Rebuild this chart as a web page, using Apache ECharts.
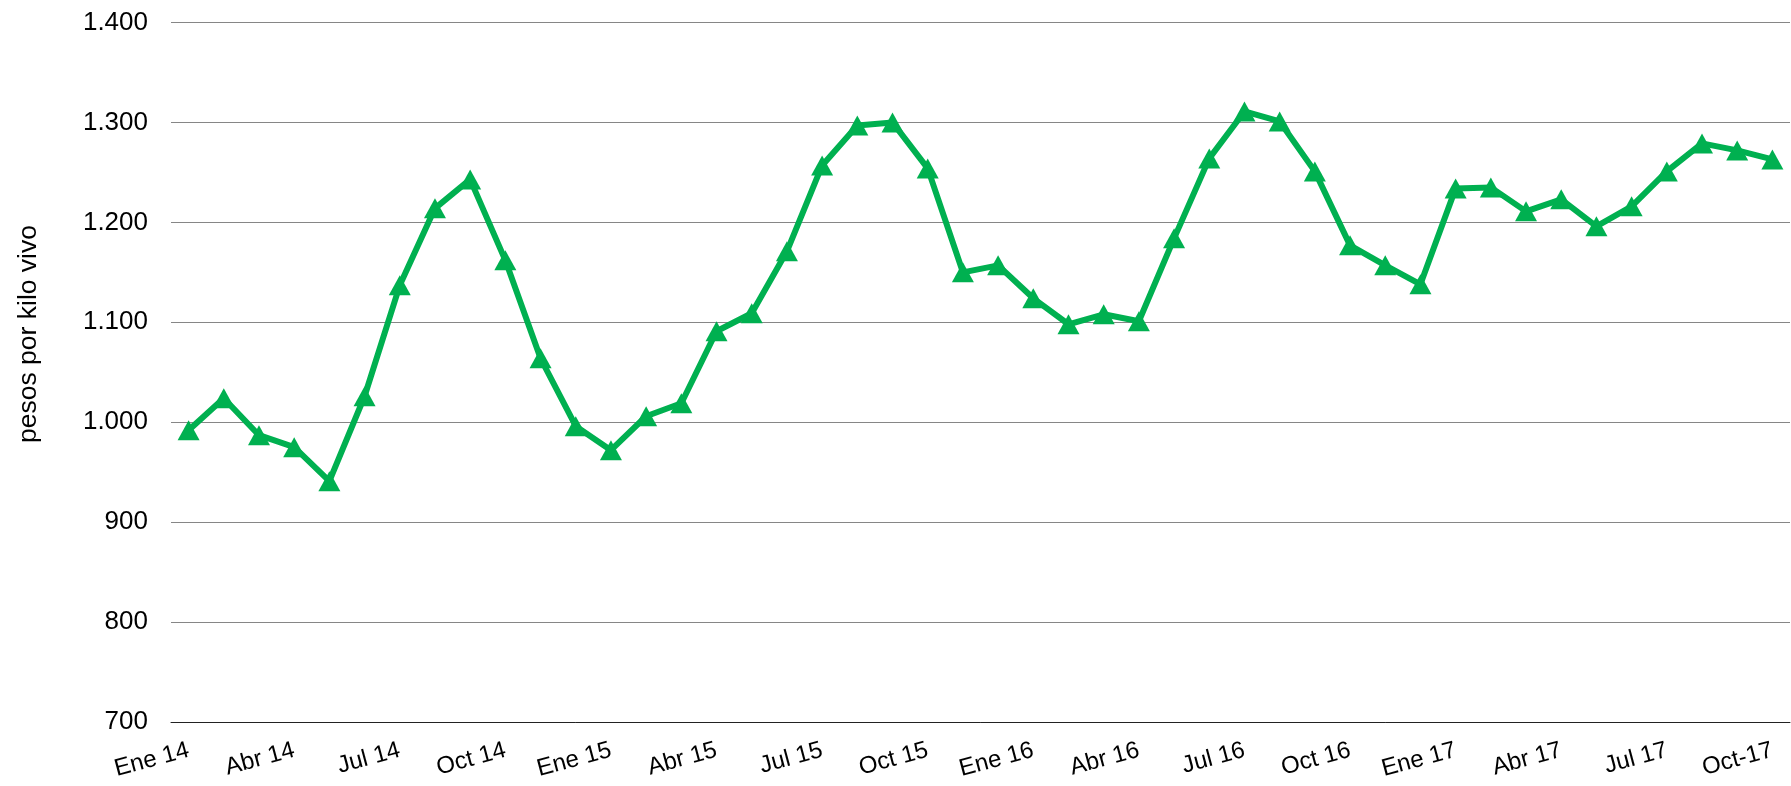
<!DOCTYPE html>
<html>
<head>
<meta charset="utf-8">
<script src="https://cdn.jsdelivr.net/npm/echarts@6/dist/echarts.min.js"></script>
<style>
html,body{margin:0;padding:0;background:#fff;}
#chart{width:1791px;height:786px;}
</style>
</head>
<body>
<div id="chart"></div>
<script>
const categories = [
  "Ene 14","Feb 14","Mar 14","Abr 14","May 14","Jun 14","Jul 14","Ago 14","Sep 14","Oct 14","Nov 14","Dic 14",
  "Ene 15","Feb 15","Mar 15","Abr 15","May 15","Jun 15","Jul 15","Ago 15","Sep 15","Oct 15","Nov 15","Dic 15",
  "Ene 16","Feb 16","Mar 16","Abr 16","May 16","Jun 16","Jul 16","Ago 16","Sep 16","Oct 16","Nov 16","Dic 16",
  "Ene 17","Feb 17","Mar 17","Abr 17","May 17","Jun 17","Jul 17","Ago 17","Sep 17","Oct-17"
];
const prices = [
  992,1024,987,975,941,1026,1137,1214,1243,1162,1064,996,
  972,1006,1019,1091,1109,1171,1257,1297,1300,1254,1150,1157,
  1124,1098,1108,1101,1184,1264,1311,1301,1251,1177,1157,1138,
  1234,1235,1211,1223,1196,1216,1251,1279,1272,1263
];
const yTicks = { min: 700, max: 1400, interval: 100 };
const yTitle = "pesos por kilo vivo";

function fmt(v){
  const s = String(Math.round(v));
  return s.replace(/\B(?=(\d{3})+(?!\d))/g, ".");
}

const FONT = 'Liberation Sans, Arial, sans-serif';

const chart = echarts.init(document.getElementById('chart'));
chart.setOption({
  animation: false,
  backgroundColor: '#ffffff',
  grid: { left: 171, right: 1, top: 22.5, bottom: 64, containLabel: false },
  xAxis: {
    type: 'category',
    data: categories,
    boundaryGap: true,
    axisLine: { show: true, lineStyle: { color: '#222222', width: 1 } },
    axisTick: { show: false },
    axisLabel: {
      interval: 2,
      rotate: 15,
      margin: 28,
      fontFamily: FONT,
      fontSize: 24,
      color: '#000000'
    },
    splitLine: { show: false }
  },
  yAxis: {
    type: 'value',
    min: yTicks.min,
    max: yTicks.max,
    interval: yTicks.interval,
    axisLine: { show: false },
    axisTick: { show: false },
    axisLabel: {
      margin: 23,
      fontFamily: FONT,
      fontSize: 26,
      color: '#000000',
      formatter: fmt
    },
    splitLine: { show: true, lineStyle: { color: '#868686', width: 1.2 } }
  },
  graphic: [{
    type: 'text',
    left: 15,
    top: 225,
    rotation: Math.PI / 2,
    style: {
      text: yTitle,
      fontFamily: FONT,
      fontSize: 26.5,
      fill: '#000000'
    }
  }],
  series: [{
    type: 'line',
    data: prices,
    lineStyle: { color: '#00B050', width: 6 },
    itemStyle: { color: '#00B050' },
    symbol: 'triangle',
    symbolSize: [22, 20],
    showSymbol: true,
    z: 3
  }]
});
</script>
</body>
</html>
